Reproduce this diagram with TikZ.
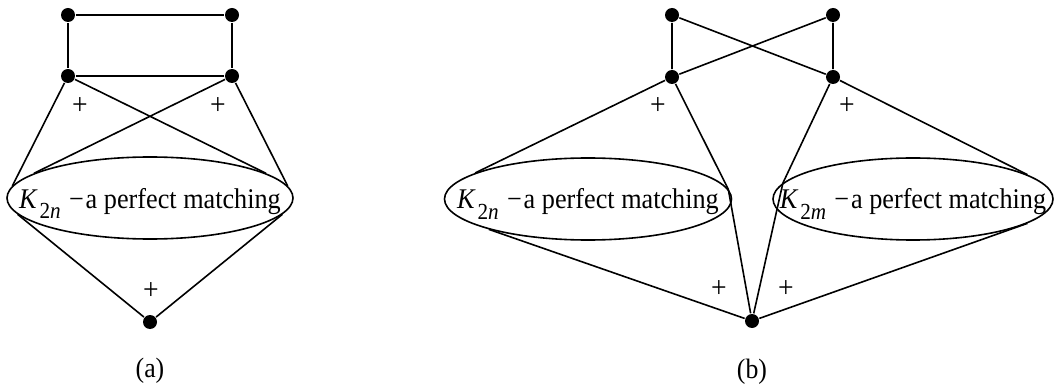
\documentclass[tikz,border=0pt]{standalone}
\usepackage{fontspec}
\setmainfont{Liberation Serif}
\usetikzlibrary{shapes.geometric}
\newcommand{\squeeze}[1]{\scalebox{0.92}[1]{#1}}
\newcommand{\matchtext}[1]{\squeeze{\textit{K}\hspace{2pt}\raisebox{-10pt}{\fontsize{23}{23}\selectfont 2\textit{#1}}\hspace{9pt}−\hspace{2pt}a perfect matching}}

\begin{document}
\begin{tikzpicture}[x=1pt,y=-1pt,line width=1.6pt,
  vertex/.style={circle,fill,inner sep=0pt,minimum size=14pt},
  blob/.style={draw,ellipse,inner sep=0pt,minimum height=82pt},
  inside/.style={font=\fontsize{28.5}{30}\selectfont,inner sep=0pt,anchor=base,yshift=-10pt},
  sign/.style={font=\fontsize{30}{30}\selectfont,inner sep=0pt},
  caption/.style={font=\fontsize{28}{28}\selectfont,inner sep=0pt}
]
  \useasboundingbox (0,0) rectangle (1056,387);
  % (a)
  \node[vertex] (a1) at (68,15) {};
  \node[vertex] (a2) at (232,15) {};
  \node[vertex] (a3) at (68,76) {};
  \node[vertex] (a4) at (232,76) {};
  \node[vertex] (a5) at (150,322) {};
  \node[blob,minimum width=286pt] (Ea) at (150,198) {};
  \node[inside] at (Ea) {\matchtext{n}};
  \draw (a1) -- (a2) -- (a4) -- (a3) -- (a1);
  \draw (a3) -- (Ea.175) (a4) -- (Ea.168) (a3) -- (Ea.12) (a4) -- (Ea.5);
  \draw (Ea.187) -- (a5) -- (Ea.353);
  \node[sign] at (80,106) {\squeeze{+}};
  \node[sign] at (218,106) {\squeeze{+}};
  \node[sign] at (151,291) {\squeeze{+}};
  \node[caption] at (150,371) {\squeeze{(a)}};
  % (b)
  \node[vertex] (b1) at (672,15) {};
  \node[vertex] (b2) at (833,15) {};
  \node[vertex] (b3) at (672,77) {};
  \node[vertex] (b4) at (833,77) {};
  \node[vertex] (b5) at (752,321) {};
  \node[blob,minimum width=287pt] (Eb) at (588,199) {};
  \node[blob,minimum width=280pt] (Ec) at (913,199) {};
  \node[inside] at (Eb) {\matchtext{n}};
  \node[inside] at (Ec) {\matchtext{m}};
  \draw (b1) -- (b3) -- (b2) -- (b4) -- (b1);
  \draw (b3) -- (Eb.167) (b3) -- (Eb.4) -- (b5) -- (Ec.173) -- (b4) -- (Ec.12);
  \draw (Eb.197) -- (b5) -- (Ec.348);
  \node[sign] at (658,106) {\squeeze{+}};
  \node[sign] at (847,106) {\squeeze{+}};
  \node[sign] at (719,289) {\squeeze{+}};
  \node[sign] at (786,289) {\squeeze{+}};
  \node[caption] at (752,372) {\squeeze{(b)}};
\end{tikzpicture}
\end{document}
